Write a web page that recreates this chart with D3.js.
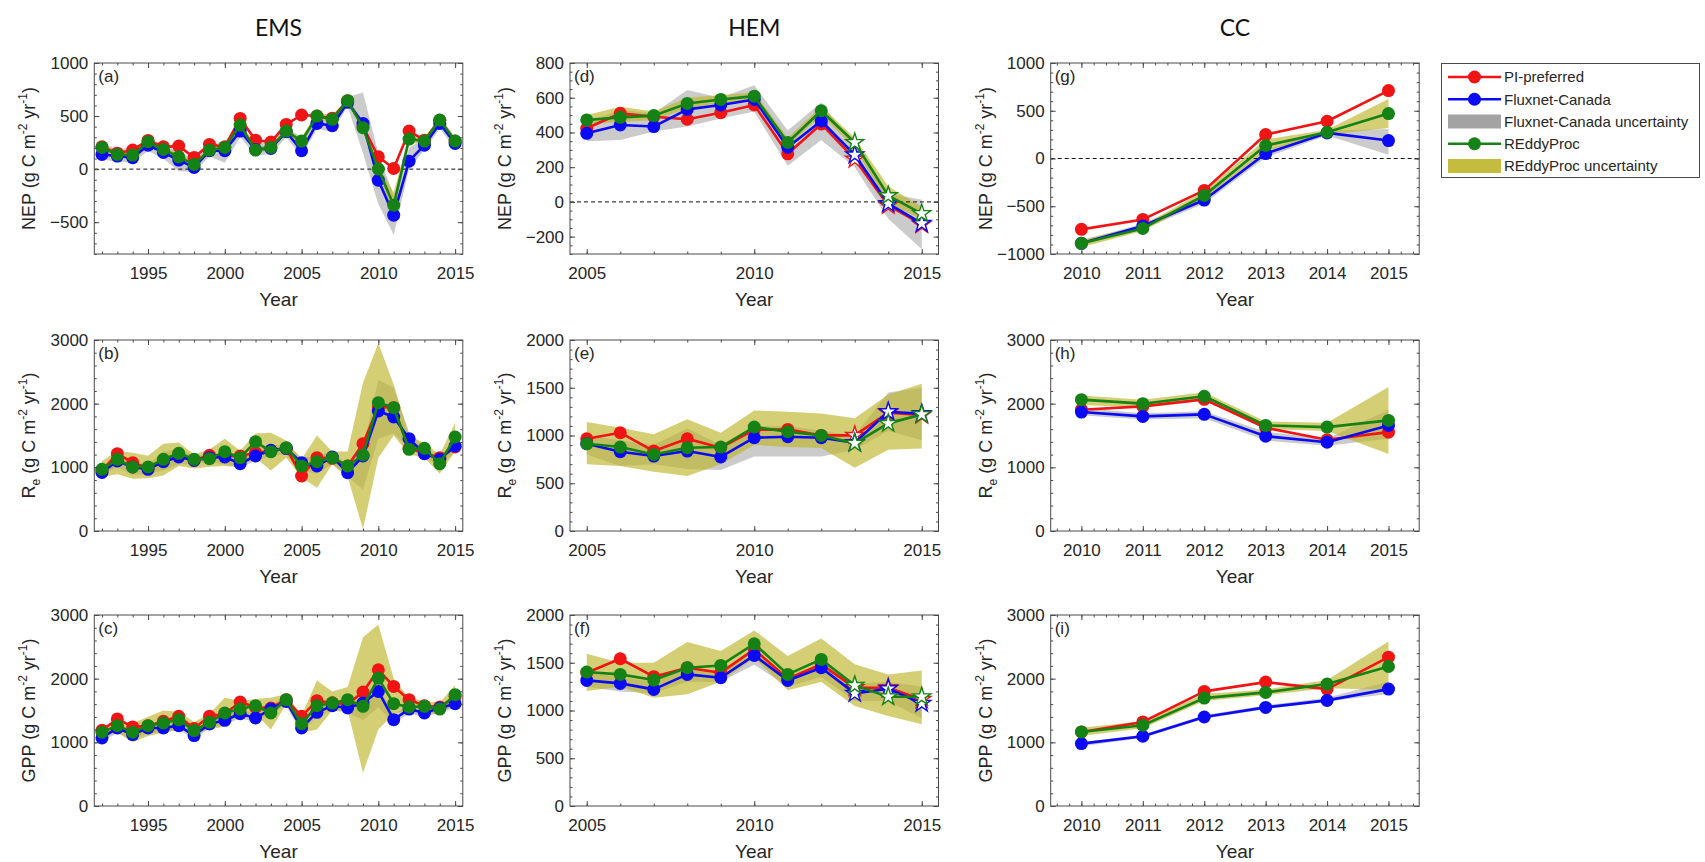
<!DOCTYPE html>
<html>
<head>
<meta charset="utf-8">
<script src="https://cdn.jsdelivr.net/npm/d3@7"></script>
<style>
  body { margin: 0; background: #fff; }
  svg { display: block; }
  text { font-family: "Liberation Sans", Arial, sans-serif; fill: #262626; }
</style>
</head>
<body>
<svg id="chart" width="1705" height="862"></svg>
<script>
// ---- years ----
const yearsEMS = [1992,1993,1994,1995,1996,1997,1998,1999,2000,2001,2002,2003,2004,2005,2006,2007,2008,2009,2010,2011,2012,2013,2014,2015];
const yearsHEM = [2005,2006,2007,2008,2009,2010,2011,2012,2013,2014,2015];
const yearsCC  = [2010,2011,2012,2013,2014,2015];

// ---- EMS ----
const emsNepPI   = [210,150,180,270,210,217,110,233,210,478,273,255,421,510,500,480,645,400,116,6,358,273,460,264];
const emsNepFC   = [138,123,107,226,157,85,16,173,173,358,185,195,352,173,431,409,629,431,-104,-434,75,226,431,242];
const emsNepRP   = [204,138,132,258,185,116,44,179,204,415,179,204,358,264,500,469,645,390,0,-340,283,264,462,264];
const emsNepFCLo = [90,70,60,170,100,-20,-25,120,60,300,130,140,300,120,380,350,590,150,-330,-620,0,180,380,190];
const emsNepFCHi = [230,200,190,300,230,170,80,240,260,440,240,250,420,250,480,470,680,723,150,-250,200,290,500,300];
const emsNepRPLo = [170,110,100,230,160,90,20,150,180,380,150,180,330,230,460,440,620,360,-40,-420,250,240,430,240];
const emsNepRPHi = [240,170,170,290,210,150,70,210,230,450,210,230,390,300,530,510,670,420,40,-220,320,290,490,290];

const emsRePI   = [950,1215,1073,990,1100,1200,1110,1189,1180,1178,1230,1257,1298,864,1152,1141,1021,1372,1950,1937,1300,1220,1152,1320];
const emsReFC   = [920,1100,1005,969,1089,1162,1110,1152,1162,1058,1178,1267,1298,1073,1021,1162,916,1178,1885,1791,1450,1215,1126,1335];
const emsReRP   = [969,1126,1005,1005,1126,1220,1126,1136,1246,1152,1403,1246,1309,1021,1089,1152,1021,1194,2016,1937,1283,1298,1058,1476];
const emsReFCLo = [880,1000,880,900,950,1050,1050,1080,1050,1000,1100,1180,1200,950,900,1050,850,650,1450,1530,1300,1150,1030,1250];
const emsReFCHi = [1020,1150,1080,1050,1250,1280,1180,1200,1220,1150,1300,1350,1350,1150,1180,1250,1020,1300,2370,2250,1550,1300,1180,1420];
const emsReRPLo = [850,890,820,830,870,1020,980,1010,1020,1000,1150,950,1150,840,680,1050,850,30,1150,1500,1200,1150,900,1250];
const emsReRPHi = [1100,1257,1230,1180,1370,1390,1200,1280,1450,1260,1530,1545,1420,1130,1500,1250,1250,2330,2950,2300,1500,1380,1200,1700];

const emsGppPI   = [1190,1367,1242,1262,1330,1409,1216,1409,1450,1633,1550,1539,1670,1409,1654,1620,1600,1789,2139,1878,1670,1575,1555,1720];
const emsGppFC   = [1069,1226,1122,1226,1226,1262,1106,1289,1346,1450,1382,1523,1643,1226,1471,1575,1539,1617,1800,1356,1523,1461,1539,1607];
const emsGppRP   = [1158,1262,1158,1262,1304,1356,1184,1315,1461,1523,1575,1461,1670,1294,1575,1617,1670,1565,2008,1607,1555,1565,1523,1748];
const emsGppFCLo = [1000,1150,1050,1150,1150,1200,1050,1220,1280,1380,1320,1450,1570,1150,1400,1500,1470,1350,1550,1300,1450,1400,1470,1540];
const emsGppFCHi = [1140,1300,1200,1300,1300,1330,1170,1360,1420,1520,1450,1600,1720,1300,1550,1650,1610,1700,1900,1430,1600,1530,1610,1680];
const emsGppRPLo = [1100,1150,1000,1100,1150,1200,1150,1200,1250,1450,1450,1200,1600,1150,1200,1500,1500,520,1200,1450,1500,1450,1450,1600];
const emsGppRPHi = [1250,1330,1300,1400,1500,1480,1320,1450,1700,1650,1680,1700,1760,1420,1970,1800,1870,2650,2850,2000,1700,1650,1620,1900];

// ---- HEM ----
const hemNepPI   = [424,510,490,476,514,558,277,449,246,-20,-130];
const hemNepFC   = [395,443,434,533,558,590,315,466,271,-10,-124];
const hemNepRP   = [472,487,497,567,590,609,342,525,342,36,-67];
const hemNepFCLo = [350,357,405,434,480,520,208,357,200,-97,-273];
const hemNepFCHi = [460,530,510,644,600,672,411,573,320,50,13];
const hemNepRPLo = [450,460,470,540,570,590,320,500,310,-10,-100];
const hemNepRPHi = [500,548,520,600,615,630,370,550,370,90,-30];

const hemRePI   = [966,1029,837,966,872,1060,1064,1001,1001,1239,1214];
const hemReFC   = [914,830,785,837,775,977,987,977,925,1249,1228];
const hemReRP   = [914,879,802,872,879,1089,1040,1001,918,1127,1221];
const hemReFCLo = [800,680,700,650,640,780,780,780,850,1050,950];
const hemReFCHi = [1000,950,900,1075,900,1100,1100,1050,1000,1450,1500];
const hemReRPLo = [698,680,620,576,700,900,880,870,663,850,865];
const hemReRPHi = [1141,1080,1012,1169,1029,1263,1250,1230,1180,1430,1542];

const hemGppPI   = [1396,1542,1354,1448,1396,1640,1333,1483,1239,1239,1116];
const hemGppFC   = [1315,1284,1221,1378,1343,1577,1315,1448,1179,1228,1075];
const hemGppRP   = [1403,1378,1319,1448,1472,1699,1378,1535,1263,1144,1144];
const hemGppFCLo = [1250,1200,1180,1300,1300,1480,1250,1350,1100,1100,920];
const hemGppFCHi = [1400,1350,1300,1450,1400,1620,1350,1500,1280,1300,1250];
const hemGppRPLo = [1204,1250,1134,1169,1300,1550,1211,1298,1047,942,855];
const hemGppRPHi = [1594,1500,1500,1717,1622,1839,1570,1755,1483,1378,1420];

// ---- CC ----
const ccNepPI   = [-742,-638,-334,251,390,711];
const ccNepFC   = [-888,-707,-435,52,268,188];
const ccNepRP   = [-888,-732,-387,136,275,470];
const ccNepFCLo = [-910,-740,-470,10,240,40];
const ccNepFCHi = [-860,-680,-400,90,290,310];
const ccNepRPLo = [-930,-760,-420,80,250,320];
const ccNepRPHi = [-850,-700,-340,200,300,624];

const ccRePI   = [1905,1958,2068,1621,1432,1553];
const ccReFC   = [1868,1800,1832,1489,1395,1658];
const ccReRP   = [2063,2000,2116,1658,1632,1737];
const ccReFCLo = [1820,1750,1770,1420,1340,1450];
const ccReFCHi = [1930,1850,1880,1560,1450,1905];
const ccReRPLo = [1980,1940,2050,1600,1570,1210];
const ccReRPHi = [2130,2060,2180,1720,1700,2263];

const ccGppPI   = [1163,1320,1800,1946,1836,2337];
const ccGppFC   = [980,1096,1398,1549,1659,1836];
const ccGppRP   = [1163,1268,1695,1784,1915,2191];
const ccGppFCLo = [940,1070,1370,1520,1640,1760];
const ccGppFCHi = [1000,1120,1430,1580,1700,1956];
const ccGppRPLo = [1100,1220,1650,1740,1850,1826];
const ccGppRPHi = [1230,1330,1760,1830,1980,2583];

const siteTitles = ['EMS', 'HEM', 'CC'];
const seriesNames = ['PI-preferred', 'Fluxnet-Canada', 'Fluxnet-Canada uncertainty', 'REddyProc', 'REddyProc uncertainty'];

// ---- layout / styling ----
const colLeft = [94.3, 570, 1050.7];
const rowTop = [63, 340, 615];
const plotW = 368.5, plotH = 191;
const RED = '#f01414', BLUE = '#0a0af5', GREEN = '#148214';
const GRAY_FILL = '#8c8c8c', YELLOW_FILL = '#bdb52a';
const AXIS_COLOR = '#4a4a4a';

const colAxes = [
    { xDomain: [1991.5, 2015.5], xTicks: [1995, 2000, 2005, 2010, 2015], xMinor: 1 },
    { xDomain: [2004.5, 2015.5], xTicks: [2005, 2010, 2015], xMinor: 1 },
    { xDomain: [2009.5, 2015.5], xTicks: [2010, 2011, 2012, 2013, 2014, 2015], xMinor: 0.2 }
];

const nepLabel = [{ t: 'NEP (g C m' }, { t: '-2', sup: true }, { t: ' yr' }, { t: '-1', sup: true }, { t: ')' }];
const reLabel  = [{ t: 'R' }, { t: 'e', sub: true }, { t: ' (g C m' }, { t: '-2', sup: true }, { t: ' yr' }, { t: '-1', sup: true }, { t: ')' }];
const gppLabel = [{ t: 'GPP (g C m' }, { t: '-2', sup: true }, { t: ' yr' }, { t: '-1', sup: true }, { t: ')' }];

const panels = [
    { tag: '(a)', col: 0, row: 0, years: yearsEMS, yDomain: [-800, 1000], yTicks: [-500, 0, 500, 1000], yMinor: 100, zero: true, label: nepLabel,
      pi: emsNepPI, fc: emsNepFC, rp: emsNepRP, fcLo: emsNepFCLo, fcHi: emsNepFCHi, rpLo: emsNepRPLo, rpHi: emsNepRPHi },
    { tag: '(b)', col: 0, row: 1, years: yearsEMS, yDomain: [0, 3000], yTicks: [0, 1000, 2000, 3000], yMinor: 200, label: reLabel,
      pi: emsRePI, fc: emsReFC, rp: emsReRP, fcLo: emsReFCLo, fcHi: emsReFCHi, rpLo: emsReRPLo, rpHi: emsReRPHi },
    { tag: '(c)', col: 0, row: 2, years: yearsEMS, yDomain: [0, 3000], yTicks: [0, 1000, 2000, 3000], yMinor: 200, label: gppLabel,
      pi: emsGppPI, fc: emsGppFC, rp: emsGppRP, fcLo: emsGppFCLo, fcHi: emsGppFCHi, rpLo: emsGppRPLo, rpHi: emsGppRPHi },
    { tag: '(d)', col: 1, row: 0, years: yearsHEM, yDomain: [-300, 800], yTicks: [-200, 0, 200, 400, 600, 800], yMinor: 50, zero: true, label: nepLabel, starFrom: 2013,
      pi: hemNepPI, fc: hemNepFC, rp: hemNepRP, fcLo: hemNepFCLo, fcHi: hemNepFCHi, rpLo: hemNepRPLo, rpHi: hemNepRPHi },
    { tag: '(e)', col: 1, row: 1, years: yearsHEM, yDomain: [0, 2000], yTicks: [0, 500, 1000, 1500, 2000], yMinor: 100, label: reLabel, starFrom: 2013,
      pi: hemRePI, fc: hemReFC, rp: hemReRP, fcLo: hemReFCLo, fcHi: hemReFCHi, rpLo: hemReRPLo, rpHi: hemReRPHi },
    { tag: '(f)', col: 1, row: 2, years: yearsHEM, yDomain: [0, 2000], yTicks: [0, 500, 1000, 1500, 2000], yMinor: 100, label: gppLabel, starFrom: 2013,
      pi: hemGppPI, fc: hemGppFC, rp: hemGppRP, fcLo: hemGppFCLo, fcHi: hemGppFCHi, rpLo: hemGppRPLo, rpHi: hemGppRPHi },
    { tag: '(g)', col: 2, row: 0, years: yearsCC, yDomain: [-1000, 1000], yTicks: [-1000, -500, 0, 500, 1000], yMinor: 100, zero: true, label: nepLabel,
      pi: ccNepPI, fc: ccNepFC, rp: ccNepRP, fcLo: ccNepFCLo, fcHi: ccNepFCHi, rpLo: ccNepRPLo, rpHi: ccNepRPHi },
    { tag: '(h)', col: 2, row: 1, years: yearsCC, yDomain: [0, 3000], yTicks: [0, 1000, 2000, 3000], yMinor: 200, label: reLabel,
      pi: ccRePI, fc: ccReFC, rp: ccReRP, fcLo: ccReFCLo, fcHi: ccReFCHi, rpLo: ccReRPLo, rpHi: ccReRPHi },
    { tag: '(i)', col: 2, row: 2, years: yearsCC, yDomain: [0, 3000], yTicks: [0, 1000, 2000, 3000], yMinor: 200, label: gppLabel,
      pi: ccGppPI, fc: ccGppFC, rp: ccGppRP, fcLo: ccGppFCLo, fcHi: ccGppFCHi, rpLo: ccGppRPLo, rpHi: ccGppRPHi }
];

const svg = d3.select('#chart');

// column titles
siteTitles.forEach((t, i) => {
    svg.append('text')
        .attr('x', colLeft[i] + plotW / 2)
        .attr('y', 36)
        .attr('text-anchor', 'middle')
        .style('font-family', 'Lato, "Open Sans", sans-serif')
        .style('font-size', '23px')
        .style('fill', '#111')
        .text(t);
});

function rangeStep(d0, d1, step) {
    const out = [];
    const start = Math.ceil(d0 / step - 1e-9) * step;
    for (let v = start; v <= d1 + 1e-9; v += step) out.push(+v.toFixed(4));
    return out;
}

function styleAxis(g) {
    g.select('.domain').remove();
    g.selectAll('line').attr('stroke', AXIS_COLOR).attr('stroke-width', 1);
    g.selectAll('text').style('font-size', '17px').style('fill', '#262626')
        .style('font-family', '"Liberation Sans", Arial, sans-serif');
}

function drawPanel(p) {
    const ax = colAxes[p.col];
    const left = colLeft[p.col], top = rowTop[p.row];
    const g = svg.append('g').attr('transform', `translate(${left},${top})`);

    const x = d3.scaleLinear().domain(ax.xDomain).range([0, plotW]);
    const y = d3.scaleLinear().domain(p.yDomain).range([plotH, 0]);

    const idx = p.years.map((d, i) => i);

    // uncertainty bands
    const band = (lo, hi) => d3.area()
        .x(i => x(p.years[i]))
        .y0(i => y(lo[i]))
        .y1(i => y(hi[i]));

    g.append('path').datum(idx)
        .attr('d', band(p.fcLo, p.fcHi))
        .attr('fill', GRAY_FILL).attr('fill-opacity', 0.45);
    g.append('path').datum(idx)
        .attr('d', band(p.rpLo, p.rpHi))
        .attr('fill', YELLOW_FILL).attr('fill-opacity', 0.65);

    if (p.zero) {
        g.append('line')
            .attr('x1', 0).attr('x2', plotW)
            .attr('y1', y(0)).attr('y2', y(0))
            .attr('stroke', '#111').attr('stroke-width', 1)
            .attr('stroke-dasharray', '4,3');
    }

    const series = [
        { vals: p.pi, color: RED },
        { vals: p.fc, color: BLUE },
        { vals: p.rp, color: GREEN }
    ];

    series.forEach(s => {
        const line = d3.line().x(i => x(p.years[i])).y(i => y(s.vals[i]));
        g.append('path').datum(idx)
            .attr('d', line)
            .attr('fill', 'none')
            .attr('stroke', s.color)
            .attr('stroke-width', 2.6)
            .attr('stroke-linejoin', 'round');

        const isStar = i => p.starFrom && p.years[i] >= p.starFrom;

        g.selectAll(null)
            .data(idx.filter(i => !isStar(i)))
            .enter().append('circle')
            .attr('cx', i => x(p.years[i]))
            .attr('cy', i => y(s.vals[i]))
            .attr('r', 6.5)
            .attr('fill', s.color);

        g.selectAll(null)
            .data(idx.filter(isStar))
            .enter().append('path')
            .attr('transform', i => `translate(${x(p.years[i])},${y(s.vals[i])})`)
            .attr('d', d3.symbol(d3.symbolStar, 100))
            .attr('fill', '#fff')
            .attr('stroke', s.color)
            .attr('stroke-width', 1.4);
    });

    // box
    g.append('rect')
        .attr('width', plotW).attr('height', plotH)
        .attr('fill', 'none')
        .attr('stroke', AXIS_COLOR).attr('stroke-width', 1);

    const xMinor = rangeStep(ax.xDomain[0], ax.xDomain[1], ax.xMinor);
    const yMinor = rangeStep(p.yDomain[0], p.yDomain[1], p.yMinor);

    // minor ticks (inward, all four sides)
    g.append('g').attr('transform', `translate(0,${plotH})`)
        .call(d3.axisBottom(x).tickValues(xMinor).tickSize(-2.5).tickFormat('')).call(styleAxis);
    g.append('g')
        .call(d3.axisTop(x).tickValues(xMinor).tickSize(-2.5).tickFormat('')).call(styleAxis);
    g.append('g')
        .call(d3.axisLeft(y).tickValues(yMinor).tickSize(-2.5).tickFormat('')).call(styleAxis);
    g.append('g').attr('transform', `translate(${plotW},0)`)
        .call(d3.axisRight(y).tickValues(yMinor).tickSize(-2.5).tickFormat('')).call(styleAxis);

    // major ticks
    g.append('g').attr('transform', `translate(0,${plotH})`)
        .call(d3.axisBottom(x).tickValues(ax.xTicks).tickSize(-5).tickPadding(13).tickFormat(d3.format('d')))
        .call(styleAxis);
    g.append('g')
        .call(d3.axisTop(x).tickValues(ax.xTicks).tickSize(-5).tickFormat('')).call(styleAxis);
    g.append('g')
        .call(d3.axisLeft(y).tickValues(p.yTicks).tickSize(-5).tickPadding(6).tickFormat(d3.format('d')))
        .call(styleAxis);
    g.append('g').attr('transform', `translate(${plotW},0)`)
        .call(d3.axisRight(y).tickValues(p.yTicks).tickSize(-5).tickFormat('')).call(styleAxis);

    // panel tag
    g.append('text')
        .attr('x', 4).attr('y', 19)
        .style('font-size', '17px')
        .text(p.tag);

    // x label
    g.append('text')
        .attr('x', plotW / 2).attr('y', plotH + 52)
        .attr('text-anchor', 'middle')
        .style('font-size', '19px')
        .text('Year');

    // y label with super/subscripts
    const yl = g.append('text')
        .attr('transform', `translate(-59,${plotH / 2}) rotate(-90)`)
        .attr('text-anchor', 'middle')
        .style('font-size', '18px');
    let shift = 0;
    p.label.forEach(part => {
        const target = part.sup ? -8 : part.sub ? 5 : 0;
        yl.append('tspan')
            .attr('dy', target - shift)
            .style('font-size', (part.sup || part.sub) ? '12px' : '18px')
            .text(part.t);
        shift = target;
    });
}

panels.forEach(drawPanel);

// ---- legend ----
const lg = svg.append('g');
lg.append('rect')
    .attr('x', 1441.5).attr('y', 63.5)
    .attr('width', 258).attr('height', 114)
    .attr('fill', '#fff')
    .attr('stroke', AXIS_COLOR).attr('stroke-width', 1);

const legendItems = [
    { name: seriesNames[0], kind: 'line', color: RED },
    { name: seriesNames[1], kind: 'line', color: BLUE },
    { name: seriesNames[2], kind: 'patch', color: GRAY_FILL, op: 0.8 },
    { name: seriesNames[3], kind: 'line', color: GREEN },
    { name: seriesNames[4], kind: 'patch', color: YELLOW_FILL, op: 0.9 }
];
const legendY = d3.scalePoint().domain(d3.range(legendItems.length)).range([77, 166]);

legendItems.forEach((it, i) => {
    const cy = legendY(i);
    if (it.kind === 'line') {
        lg.append('line')
            .attr('x1', 1448).attr('x2', 1501)
            .attr('y1', cy).attr('y2', cy)
            .attr('stroke', it.color).attr('stroke-width', 2.6);
        lg.append('circle')
            .attr('cx', 1474.5).attr('cy', cy).attr('r', 6.5)
            .attr('fill', it.color);
    } else {
        lg.append('rect')
            .attr('x', 1448).attr('y', cy - 7)
            .attr('width', 53).attr('height', 14)
            .attr('fill', it.color).attr('fill-opacity', it.op);
    }
    lg.append('text')
        .attr('x', 1504).attr('y', cy)
        .attr('dy', '0.35em')
        .style('font-size', '15px')
        .text(it.name);
});
</script>
</body>
</html>
